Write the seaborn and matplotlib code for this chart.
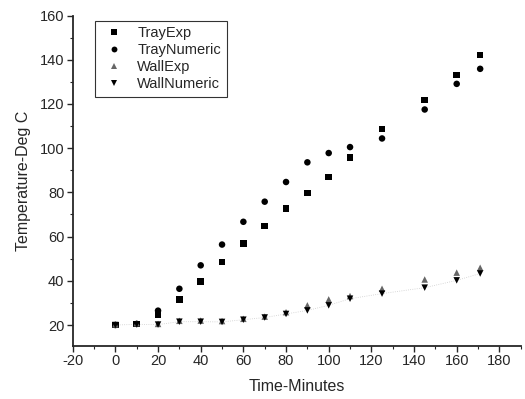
import numpy as np
import pandas as pd
import seaborn as sns
import matplotlib.pyplot as plt
from matplotlib.ticker import MultipleLocator

time = [0, 10, 20, 30, 40, 50, 60, 70, 80, 90, 100, 110, 125, 145, 160, 171]
tray_exp = [20, 20.5, 24.5, 31.6, 39.6, 48.4, 56.9, 64.7, 72.7, 79.8, 87.0, 95.8, 108.7, 121.8, 133.2, 142.2]
tray_num = [20, 20.5, 26.5, 36.4, 47.0, 56.4, 66.7, 75.8, 84.7, 93.6, 97.8, 100.5, 104.4, 117.5, 129.1, 135.9]
wall_exp = [20.3, 20.8, 20.5, 21.9, 22.0, 21.8, 22.8, 23.8, 25.8, 28.9, 31.6, 33.1, 36.4, 40.6, 43.7, 45.9]
wall_num = [20.0, 20.3, 20.2, 21.5, 21.5, 21.4, 22.4, 23.4, 25.0, 26.6, 28.9, 31.9, 34.2, 36.9, 40.2, 43.3]

series = ['TrayExp', 'TrayNumeric', 'WallExp', 'WallNumeric']
values = [tray_exp, tray_num, wall_exp, wall_num]

dfs = []
for name, v in zip(series, values):
    d = pd.DataFrame({'time': time, 'temp': v})
    d['series'] = name
    dfs.append(d)
df = pd.concat(dfs, ignore_index=True)

sns.set_style('ticks')
plt.rcParams['font.family'] = ['Liberation Sans', 'DejaVu Sans']
plt.rcParams['axes.unicode_minus'] = False

fig = plt.figure(figsize=(5.25, 3.99), dpi=100)
ax = fig.add_axes([0.1385, 0.1328, 0.8533, 0.8282])

# faint dotted connectors seen on the wall series
ax.plot(time, wall_num, ls=':', lw=0.6, color='#cccccc', zorder=1)

palette = {'TrayExp': 'black', 'TrayNumeric': 'black', 'WallExp': '#666666', 'WallNumeric': 'black'}
markers = {'TrayExp': 's', 'TrayNumeric': 'o', 'WallExp': '^', 'WallNumeric': 'v'}
sns.scatterplot(data=df, x='time', y='temp', hue='series', style='series',
                palette=palette, markers=markers, s=22, linewidth=0,
                ax=ax, zorder=3)

ax.set_xlim(-20, 190)
ax.set_ylim(10.5, 160)
ax.set_yticks([20, 40, 60, 80, 100, 120, 140, 160])
ax.set_xticks(np.arange(-20, 181, 20))
ax.xaxis.set_minor_locator(MultipleLocator(10))
ax.yaxis.set_minor_locator(MultipleLocator(10))
ax.tick_params(which='major', direction='out', length=4, width=1, labelsize=10.5, pad=2)
ax.tick_params(which='minor', direction='out', length=2, width=0.8)
for s in ['top', 'right']:
    ax.spines[s].set_visible(False)
for s in ['left', 'bottom']:
    ax.spines[s].set_linewidth(1.3)

ax.set_xlabel('Time-Minutes', fontsize=11.5, labelpad=8)
ax.set_ylabel('Temperature-Deg C', fontsize=11.5, labelpad=6)

leg = ax.legend(loc='upper left', bbox_to_anchor=(0.05, 0.985), frameon=True,
                fancybox=False, edgecolor='black', fontsize=10.5,
                handletextpad=0.7, borderpad=0.4, labelspacing=0.2,
                markerscale=0.9, borderaxespad=0, handlelength=1.8)
leg.get_frame().set_linewidth(0.8)

fig.savefig('out.png', dpi=100)
